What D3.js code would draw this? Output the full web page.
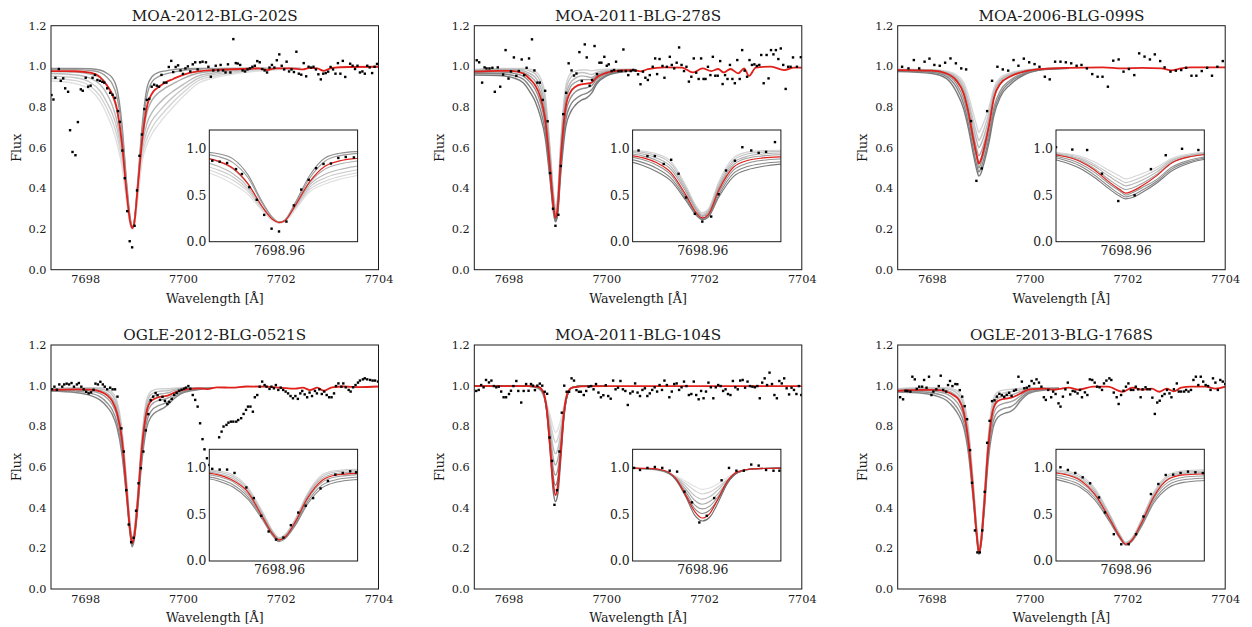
<!DOCTYPE html>
<html>
<head>
<meta charset="utf-8">
<script src="https://cdn.jsdelivr.net/npm/d3@7"></script>
<style>
  body { margin: 0; background: #fff; }
  svg { display: block; }
  text { font-family: "DejaVu Serif", serif; fill: #1a1a1a; }
</style>
</head>
<body>
<svg id="chart" width="1252" height="627"></svg>
<script>
// ---------- shared axis settings ----------
const titles = ["MOA-2012-BLG-202S", "MOA-2011-BLG-278S", "MOA-2006-BLG-099S",
                "OGLE-2012-BLG-0521S", "MOA-2011-BLG-104S", "OGLE-2013-BLG-1768S"];
const xDomain = [7697.3, 7704.0];
const yDomain = [0, 1.2];
const xTickValues = [7698, 7700, 7702, 7704];
const yTickValues = [0.0, 0.2, 0.4, 0.6, 0.8, 1.0, 1.2];
const insetXDomain = [7698.49, 7699.49];
const insetXTicks = [7698.96];
const insetYTicks = [0.0, 0.5, 1.0];

// ---------- MOA-2012-BLG-202S ----------
const p1Grid = [7697.3, 7697.8, 7698.1, 7698.3, 7698.45, 7698.55, 7698.65, 7698.75, 7698.85, 7698.92, 7698.96, 7699.0, 7699.07, 7699.17, 7699.27, 7699.37, 7699.5, 7699.65, 7699.8, 7700.0, 7700.3, 7700.7, 7701.2, 7701.8, 7702.4];
const p1Models = [
  [0.99,0.99,0.988,0.982,0.965,0.945,0.89,0.72,0.42,0.255,0.21,0.235,0.42,0.72,0.9,0.95,0.97,0.978,0.984,0.988,0.99,0.99,0.99,0.99,0.99],
  [0.985,0.984,0.98,0.97,0.945,0.915,0.85,0.69,0.405,0.25,0.21,0.232,0.405,0.69,0.865,0.925,0.95,0.963,0.972,0.98,0.986,0.989,0.99,0.99,0.99],
  [0.975,0.972,0.962,0.945,0.905,0.86,0.78,0.62,0.37,0.235,0.205,0.225,0.38,0.64,0.78,0.835,0.87,0.895,0.915,0.94,0.966,0.978,0.985,0.988,0.99],
  [0.965,0.958,0.942,0.912,0.862,0.81,0.73,0.59,0.36,0.232,0.205,0.223,0.37,0.615,0.725,0.775,0.815,0.85,0.878,0.91,0.952,0.97,0.981,0.987,0.99],
  [0.952,0.944,0.922,0.88,0.82,0.77,0.695,0.565,0.35,0.228,0.203,0.22,0.36,0.59,0.685,0.735,0.775,0.815,0.85,0.89,0.94,0.963,0.977,0.986,0.99],
  [0.94,0.93,0.903,0.855,0.79,0.735,0.66,0.54,0.34,0.225,0.2,0.218,0.352,0.565,0.65,0.70,0.745,0.785,0.825,0.87,0.928,0.955,0.972,0.984,0.99],
  [0.928,0.915,0.885,0.83,0.76,0.70,0.62,0.51,0.33,0.222,0.2,0.215,0.345,0.54,0.62,0.67,0.715,0.76,0.80,0.85,0.915,0.947,0.968,0.981,0.99]
];
const p1Shades = ["#8e8e8e", "#9c9c9c", "#ababab", "#b9b9b9", "#c7c7c7", "#d4d4d4", "#e0e0e0"];
const p1Fit = [[7697.3,0.977],[7697.8,0.976],[7698.1,0.969],[7698.3,0.948],[7698.45,0.905],[7698.55,0.865],[7698.65,0.79],[7698.75,0.625],[7698.85,0.37],[7698.92,0.235],[7698.96,0.205],[7699.0,0.225],[7699.07,0.39],[7699.17,0.65],[7699.27,0.81],[7699.37,0.868],[7699.5,0.898],[7699.65,0.922],[7699.8,0.938],[7700.0,0.958],[7700.3,0.975],[7700.7,0.983],[7701.2,0.987],[7701.55,0.99],[7701.72,0.982],[7701.9,0.99],[7702.2,0.99],[7702.45,0.985],[7702.6,0.993],[7702.75,0.99],[7702.88,0.978],[7703.05,0.993],[7703.4,0.997],[7704.0,0.998]];
const p1Obs = [[7697.31,0.859],[7697.35,0.837],[7697.39,0.944],[7697.46,0.987],[7697.50,0.929],[7697.55,0.941],[7697.59,0.892],[7697.65,0.875],[7697.69,0.686],[7697.74,0.579],[7697.80,0.563],[7697.85,0.726],[7697.91,0.887],[7697.95,0.88],[7698.01,0.944],[7698.06,0.90],[7698.11,0.905],[7698.15,0.944],[7698.20,0.958],[7698.25,0.933],[7698.30,0.929],[7698.35,0.924],[7698.39,0.92],[7698.45,0.892],
  [7698.51,0.87],[7698.56,0.86],[7698.61,0.845],[7698.67,0.78],[7698.71,0.727],[7698.76,0.586],[7698.81,0.45],[7698.86,0.288],[7698.91,0.14],[7698.96,0.11],[7699.01,0.216],[7699.06,0.39],[7699.11,0.56],[7699.16,0.665],[7699.21,0.79],[7699.26,0.835],[7699.31,0.84],[7699.36,0.90],[7699.41,0.91],[7699.465,0.905],
  [7699.51,0.90],[7699.56,0.958],[7699.61,0.92],[7699.66,0.92],[7699.71,0.997],[7699.76,1.027],[7699.80,0.972],[7699.85,0.997],[7699.90,1.005],[7699.95,0.98],[7700.0,0.963],[7700.05,0.99],[7700.10,1.0],[7700.15,0.975],[7700.20,1.01],[7700.25,1.02],[7700.30,0.985],[7700.35,1.02],
  [7700.40,1.023],[7700.47,1.02],[7700.52,0.998],[7700.57,0.949],[7700.62,0.98],[7700.67,1.003],[7700.72,0.98],[7700.77,1.007],[7700.82,0.98],[7700.87,0.97],[7700.92,1.01],[7700.97,0.97],[7701.03,1.134],[7701.08,1.016],[7701.12,1.014],[7701.17,1.007],[7701.22,0.98],[7701.27,0.975],[7701.32,0.985],[7701.37,0.99],[7701.42,0.998],[7701.47,1.003],[7701.52,1.026],[7701.57,1.02],[7701.62,0.987],[7701.67,0.98],[7701.72,0.97],[7701.77,0.994],[7701.82,1.007],[7701.87,0.994],[7701.92,1.03],[7701.97,1.059],[7702.02,1.003],[7702.07,0.985],[7702.12,1.023],[7702.17,0.975],[7702.22,0.985],[7702.27,0.972],[7702.32,1.072],[7702.37,0.964],[7702.42,0.959],[7702.47,1.016],[7702.52,0.951],[7702.57,0.998],[7702.62,0.994],[7702.67,0.998],[7702.72,0.985],[7702.77,0.961],[7702.82,0.936],[7702.87,0.964],[7702.92,0.967],[7702.97,0.974],[7703.02,0.997],[7703.07,0.985],[7703.12,0.964],[7703.17,1.016],[7703.22,0.964],[7703.27,1.027],[7703.32,0.948],[7703.42,1.013],[7703.47,1.003],[7703.52,0.987],[7703.57,1.003],[7703.62,0.97],[7703.67,0.975],[7703.72,0.964],[7703.77,1.003],[7703.82,0.995],[7703.87,0.967],[7703.92,0.998],[7703.97,1.012]];

// ---------- MOA-2011-BLG-278S ----------
const p2Grid = [7697.3, 7697.8, 7698.1, 7698.3, 7698.45, 7698.55, 7698.65, 7698.75, 7698.85, 7698.92, 7698.96, 7699.0, 7699.07, 7699.17, 7699.27, 7699.37, 7699.5, 7699.6, 7699.7, 7699.8, 7700.0, 7700.3, 7700.6];
const p2Models = [
  [0.985,0.99,0.99,0.99,0.985,0.975,0.945,0.86,0.6,0.38,0.31,0.35,0.64,0.9,0.965,0.978,0.982,0.982,0.978,0.982,0.986,0.986,0.986],
  [0.982,0.987,0.987,0.985,0.976,0.962,0.925,0.835,0.58,0.365,0.295,0.335,0.615,0.875,0.945,0.962,0.97,0.966,0.96,0.97,0.98,0.984,0.985],
  [0.98,0.984,0.983,0.978,0.963,0.945,0.9,0.805,0.56,0.35,0.28,0.32,0.59,0.85,0.92,0.942,0.953,0.95,0.945,0.96,0.975,0.982,0.984],
  [0.977,0.981,0.978,0.97,0.95,0.925,0.875,0.775,0.535,0.335,0.27,0.305,0.57,0.825,0.9,0.922,0.935,0.935,0.935,0.953,0.972,0.981,0.983],
  [0.97,0.972,0.966,0.952,0.92,0.885,0.825,0.715,0.48,0.3,0.248,0.28,0.525,0.77,0.845,0.875,0.89,0.895,0.905,0.935,0.963,0.978,0.982],
  [0.964,0.964,0.955,0.937,0.895,0.855,0.79,0.68,0.46,0.29,0.24,0.27,0.5,0.735,0.81,0.84,0.86,0.868,0.885,0.922,0.957,0.975,0.981],
  [0.957,0.955,0.943,0.92,0.87,0.825,0.755,0.65,0.44,0.28,0.235,0.262,0.475,0.7,0.775,0.81,0.835,0.845,0.868,0.912,0.952,0.972,0.98]
];
const p2Shades = ["#d2d2d2", "#c2c2c2", "#b2b2b2", "#a2a2a2", "#929292", "#858585", "#787878"];
const p2Fit = [[7697.3,0.974],[7697.8,0.978],[7698.1,0.977],[7698.3,0.965],[7698.45,0.935],[7698.55,0.905],[7698.65,0.85],[7698.75,0.74],[7698.85,0.5],[7698.92,0.31],[7698.96,0.255],[7699.0,0.29],[7699.07,0.55],[7699.17,0.8],[7699.27,0.875],[7699.37,0.9],[7699.5,0.912],[7699.6,0.915],[7699.7,0.92],[7699.8,0.945],[7700.0,0.968],[7700.3,0.98],[7700.55,0.982],[7700.7,0.975],[7700.85,0.986],[7701.2,0.995],[7701.55,0.994],[7701.77,0.97],[7701.97,0.99],[7702.15,0.977],[7702.29,0.987],[7702.4,0.97],[7702.54,0.987],[7702.7,0.966],[7702.82,0.99],[7702.92,0.953],[7703.06,0.994],[7703.37,0.999],[7703.64,0.982],[7703.84,0.994],[7704.0,0.994]];
const p2Obs = [[7697.35,1.03],[7697.40,1.02],[7697.46,0.92],[7697.51,0.995],[7697.55,0.99],[7697.61,0.99],[7697.67,0.993],[7697.72,0.875],[7697.78,0.995],[7697.83,0.90],[7697.89,0.96],[7697.94,1.08],[7698.0,0.94],[7698.05,0.975],[7698.11,1.044],[7698.16,0.953],[7698.21,0.977],[7698.27,1.034],[7698.32,0.957],[7698.37,0.993],[7698.42,1.039],[7698.48,1.133],
  [7698.53,0.98],[7698.59,0.92],[7698.64,0.92],[7698.70,0.835],[7698.75,0.88],[7698.80,0.73],[7698.85,0.475],[7698.91,0.30],[7698.96,0.216],[7699.02,0.27],[7699.07,0.51],[7699.12,0.765],[7699.18,0.87],[7699.23,1.015],[7699.29,0.98],[7699.34,0.955],[7699.39,0.965],[7699.45,1.07],
  [7699.50,0.928],[7699.56,1.108],[7699.60,1.044],[7699.66,0.905],[7699.71,0.933],[7699.76,1.10],[7699.81,0.962],[7699.86,1.018],[7699.90,1.018],[7699.96,1.047],[7700.01,1.003],[7700.05,1.01],[7700.11,0.977],[7700.16,0.982],[7700.20,1.023],[7700.25,0.977],[7700.31,0.977],[7700.35,1.083],[7700.40,0.977],[7700.45,0.957],[7700.50,0.977],[7700.55,0.982],[7700.60,0.979],[7700.65,0.961],[7700.70,0.912],[7700.75,0.974],[7700.80,0.944],[7700.85,0.933],[7700.89,0.957],[7700.95,0.998],[7701.0,1.039],[7701.04,0.962],[7701.09,1.036],[7701.15,1.002],[7701.19,0.944],[7701.24,0.998],[7701.30,1.047],[7701.34,1.007],[7701.39,0.99],[7701.44,1.018],[7701.49,1.093],[7701.54,1.007],[7701.59,0.977],[7701.64,0.998],[7701.69,0.925],[7701.74,0.949],[7701.79,1.039],[7701.84,0.969],[7701.89,0.938],[7701.94,1.039],[7701.99,0.938],[7702.03,0.938],[7702.08,0.998],[7702.13,0.957],[7702.18,1.047],[7702.23,0.954],[7702.28,0.954],[7702.33,1.026],[7702.38,0.913],[7702.43,0.957],[7702.48,0.938],[7702.53,1.007],[7702.58,0.938],[7702.63,0.917],[7702.68,1.031],[7702.73,0.938],[7702.78,1.08],[7702.83,0.979],[7702.88,0.949],[7702.93,1.031],[7702.98,1.007],[7703.03,1.01],[7703.08,1.002],[7703.13,1.007],[7703.17,1.056],[7703.22,0.917],[7703.28,1.056],[7703.32,0.941],[7703.37,1.08],[7703.42,1.059],[7703.47,1.08],[7703.52,1.036],[7703.57,1.088],[7703.62,1.007],[7703.67,0.889],[7703.72,0.998],[7703.77,0.998],[7703.82,1.044],[7703.90,0.998],[7703.98,1.045]];

// ---------- MOA-2006-BLG-099S ----------
const p3Grid = [7697.3, 7698.0, 7698.3, 7698.5, 7698.65, 7698.75, 7698.85, 7698.92, 7698.96, 7699.0, 7699.07, 7699.17, 7699.27, 7699.4, 7699.6, 7699.9, 7700.3, 7700.8];
const p3Models = [
  [0.986,0.984,0.976,0.958,0.92,0.855,0.765,0.705,0.675,0.69,0.73,0.8,0.895,0.945,0.968,0.982,0.99,0.992],
  [0.985,0.982,0.972,0.95,0.905,0.83,0.73,0.665,0.635,0.65,0.695,0.775,0.88,0.935,0.962,0.98,0.989,0.992],
  [0.984,0.981,0.969,0.943,0.89,0.81,0.7,0.63,0.6,0.615,0.66,0.75,0.868,0.928,0.958,0.978,0.988,0.992],
  [0.983,0.98,0.966,0.935,0.875,0.785,0.665,0.59,0.56,0.575,0.625,0.725,0.85,0.915,0.95,0.975,0.988,0.992],
  [0.98,0.976,0.958,0.915,0.84,0.745,0.62,0.545,0.5,0.522,0.58,0.67,0.8,0.88,0.932,0.968,0.986,0.991],
  [0.977,0.971,0.95,0.898,0.815,0.715,0.59,0.512,0.48,0.497,0.552,0.65,0.78,0.865,0.922,0.964,0.985,0.991],
  [0.974,0.965,0.94,0.875,0.79,0.69,0.565,0.488,0.46,0.472,0.528,0.63,0.76,0.85,0.91,0.96,0.984,0.991]
];
const p3Shades = ["#d6d6d6", "#c6c6c6", "#b6b6b6", "#a6a6a6", "#969696", "#888888", "#7a7a7a"];
const p3Fit = [[7697.3,0.982],[7698.0,0.979],[7698.3,0.965],[7698.5,0.93],[7698.65,0.865],[7698.75,0.77],[7698.85,0.64],[7698.92,0.56],[7698.96,0.522],[7699.0,0.54],[7699.07,0.6],[7699.17,0.71],[7699.27,0.845],[7699.4,0.915],[7699.6,0.95],[7699.9,0.975],[7700.3,0.988],[7700.8,0.993],[7701.5,0.995],[7701.9,0.99],[7702.3,0.993],[7702.7,0.99],[7702.9,0.98],[7703.1,0.99],[7703.3,0.995],[7704.0,0.995]];
const p3Obs = [[7697.39,0.998],[7697.52,0.99],[7697.63,1.031],[7697.74,0.99],[7697.85,1.023],[7697.95,1.038],[7698.05,1.007],[7698.16,1.003],[7698.27,1.018],[7698.38,1.039],[7698.49,1.015],[7698.60,0.99],[7698.70,0.985],[7698.80,0.731],[7698.91,0.437],[7699.02,0.498],[7699.13,0.78],[7699.23,0.929],[7699.34,0.998],[7699.45,0.985],[7699.56,0.979],[7699.67,1.031],[7699.77,1.003],[7699.88,1.038],[7699.99,1.02],[7700.10,1.011],[7700.20,0.998],[7700.31,0.949],[7700.41,0.936],[7700.52,1.023],[7700.63,1.023],[7700.74,1.02],[7700.85,1.015],[7700.96,1.003],[7701.06,1.007],[7701.17,0.99],[7701.28,0.962],[7701.39,0.949],[7701.49,0.949],[7701.60,0.9],[7701.71,1.028],[7701.82,1.034],[7701.92,0.974],[7702.03,0.987],[7702.14,0.957],[7702.24,1.064],[7702.35,1.048],[7702.46,1.034],[7702.56,1.059],[7702.67,1.026],[7702.76,0.995],[7702.88,0.974],[7702.99,0.979],[7703.10,0.982],[7703.20,0.993],[7703.31,0.954],[7703.41,0.954],[7703.52,0.977],[7703.63,0.993],[7703.73,0.954],[7703.84,0.998],[7703.95,1.026]];

// ---------- OGLE-2012-BLG-0521S ----------
const p4Grid = [7697.3, 7697.8, 7698.1, 7698.3, 7698.45, 7698.55, 7698.65, 7698.75, 7698.85, 7698.92, 7698.96, 7699.0, 7699.07, 7699.15, 7699.25, 7699.35, 7699.5, 7699.6, 7699.7, 7699.8, 7700.0, 7700.3, 7700.6];
const p4Models = [
  [0.985,0.99,0.99,0.99,0.982,0.968,0.925,0.79,0.525,0.32,0.25,0.285,0.455,0.72,0.925,0.972,0.984,0.985,0.985,0.988,0.99,0.99,0.99],
  [0.983,0.988,0.988,0.985,0.974,0.955,0.905,0.77,0.51,0.31,0.245,0.278,0.445,0.705,0.905,0.958,0.972,0.974,0.976,0.982,0.988,0.99,0.99],
  [0.981,0.985,0.984,0.978,0.962,0.938,0.885,0.75,0.495,0.3,0.238,0.27,0.432,0.69,0.885,0.94,0.958,0.961,0.965,0.974,0.985,0.989,0.99],
  [0.978,0.979,0.974,0.962,0.938,0.908,0.85,0.715,0.47,0.285,0.228,0.258,0.41,0.655,0.845,0.905,0.928,0.932,0.94,0.954,0.976,0.986,0.99],
  [0.976,0.973,0.963,0.946,0.915,0.882,0.82,0.69,0.455,0.275,0.218,0.248,0.395,0.63,0.815,0.875,0.902,0.91,0.923,0.943,0.97,0.983,0.989],
  [0.974,0.966,0.952,0.93,0.895,0.86,0.795,0.665,0.44,0.265,0.208,0.238,0.382,0.605,0.785,0.848,0.878,0.89,0.908,0.932,0.965,0.98,0.988]
];
const p4Shades = ["#d0d0d0", "#c0c0c0", "#b0b0b0", "#a0a0a0", "#929292", "#858585"];
const p4Fit = [[7697.3,0.979],[7697.8,0.982],[7698.1,0.981],[7698.3,0.972],[7698.45,0.952],[7698.55,0.925],[7698.65,0.865],[7698.75,0.74],[7698.85,0.47],[7698.92,0.285],[7698.96,0.226],[7699.0,0.255],[7699.07,0.42],[7699.15,0.67],[7699.25,0.865],[7699.35,0.925],[7699.5,0.943],[7699.6,0.947],[7699.7,0.952],[7699.8,0.963],[7700.0,0.979],[7700.3,0.987],[7700.5,0.983],[7700.7,0.992],[7701.0,0.99],[7701.3,0.996],[7701.7,0.995],[7702.0,0.99],[7702.3,0.985],[7702.45,0.99],[7702.6,0.978],[7702.75,0.99],[7702.88,0.975],[7703.05,0.992],[7703.3,0.996],[7703.6,0.993],[7704.0,0.996]];
const p4Obs = [[7697.32,0.982],[7697.37,0.995],[7697.42,0.98],[7697.47,1.006],[7697.53,0.995],[7697.57,1.006],[7697.62,1.01],[7697.67,1.006],[7697.72,1.013],[7697.77,0.995],[7697.83,1.006],[7697.87,1.013],[7697.92,0.995],[7697.97,0.982],[7698.02,0.97],[7698.07,0.962],[7698.12,0.967],[7698.17,0.98],[7698.21,1.01],[7698.26,1.006],[7698.31,1.019],[7698.36,1.006],[7698.40,0.995],[7698.45,0.982],
  [7698.51,0.99],[7698.56,0.982],[7698.61,0.982],[7698.66,0.946],[7698.74,0.79],[7698.79,0.676],[7698.84,0.486],[7698.89,0.317],[7698.94,0.23],[7698.99,0.252],[7699.04,0.385],[7699.09,0.52],[7699.14,0.594],[7699.19,0.676],[7699.24,0.78],[7699.29,0.86],[7699.34,0.928],[7699.39,0.946],[7699.44,0.964],[7699.48,0.953],
  [7699.53,0.93],[7699.58,0.945],[7699.63,0.925],[7699.68,0.91],[7699.72,0.92],[7699.77,0.935],[7699.82,0.955],[7699.87,0.965],[7699.92,0.975],[7699.97,0.98],[7700.02,0.985],[7700.06,0.99],[7700.11,0.998],[7700.15,0.985],[7700.20,0.954],[7700.25,0.93],[7700.30,0.897],[7700.35,0.815],[7700.40,0.737],[7700.44,0.687],[7700.49,0.643],[7700.54,0.61],[7700.59,0.58],[7700.64,0.575],[7700.69,0.62],[7700.74,0.746],[7700.79,0.774],[7700.83,0.799],[7700.89,0.807],[7700.93,0.818],[7700.98,0.823],[7701.03,0.823],[7701.09,0.823],[7701.13,0.831],[7701.19,0.84],[7701.24,0.861],[7701.29,0.881],[7701.33,0.897],[7701.38,0.897],[7701.43,0.872],[7701.47,0.943],[7701.52,0.954],[7701.57,0.995],[7701.62,1.02],[7701.67,1.003],[7701.71,0.995],[7701.77,0.984],[7701.81,0.995],[7701.86,0.987],[7701.90,1.003],[7701.95,0.979],[7702.0,0.99],[7702.05,0.979],[7702.10,0.971],[7702.15,0.962],[7702.20,0.949],[7702.25,0.938],[7702.30,0.949],[7702.35,0.935],[7702.40,0.962],[7702.44,0.974],[7702.49,0.957],[7702.54,0.943],[7702.59,0.966],[7702.64,0.949],[7702.70,0.974],[7702.74,0.962],[7702.79,0.982],[7702.84,0.959],[7702.89,0.971],[7702.94,0.954],[7702.99,0.943],[7703.04,0.943],[7703.09,0.962],[7703.13,0.998],[7703.18,1.011],[7703.24,0.995],[7703.28,1.011],[7703.33,0.992],[7703.39,0.979],[7703.43,0.971],[7703.48,0.992],[7703.53,1.003],[7703.58,1.015],[7703.62,1.025],[7703.68,1.031],[7703.72,1.036],[7703.77,1.031],[7703.83,1.028],[7703.88,1.025],[7703.93,1.025],[7703.99,1.02]];

// ---------- MOA-2011-BLG-104S ----------
const p5Grid = [7697.3, 7698.4, 7698.6, 7698.7, 7698.78, 7698.85, 7698.91, 7698.96, 7699.01, 7699.07, 7699.13, 7699.2, 7699.3, 7699.5, 7700.0];
const p5Models = [
  [0.998,0.997,0.985,0.96,0.915,0.855,0.8,0.77,0.785,0.835,0.9,0.955,0.99,0.998,0.998],
  [0.998,0.997,0.987,0.96,0.905,0.83,0.755,0.72,0.74,0.8,0.88,0.952,0.99,0.998,0.998],
  [0.998,0.997,0.988,0.962,0.9,0.8,0.7,0.665,0.69,0.77,0.87,0.95,0.99,0.998,0.998],
  [0.998,0.998,0.99,0.965,0.89,0.77,0.65,0.61,0.64,0.73,0.855,0.95,0.99,0.998,0.998],
  [0.998,0.998,0.99,0.967,0.885,0.74,0.6,0.56,0.59,0.7,0.845,0.95,0.99,0.998,0.998],
  [0.998,0.998,0.991,0.968,0.88,0.715,0.56,0.51,0.545,0.675,0.84,0.95,0.99,0.998,0.998],
  [0.998,0.998,0.992,0.97,0.875,0.685,0.49,0.43,0.47,0.64,0.835,0.95,0.99,0.998,0.998]
];
const p5Shades = ["#e2e2e2", "#d0d0d0", "#bdbdbd", "#aaaaaa", "#979797", "#848484", "#6e6e6e"];
const p5Fit = [[7697.3,0.998],[7698.4,0.998],[7698.6,0.995],[7698.7,0.975],[7698.78,0.89],[7698.85,0.7],[7698.91,0.53],[7698.96,0.462],[7699.01,0.51],[7699.07,0.68],[7699.13,0.86],[7699.2,0.96],[7699.3,0.99],[7699.5,0.997],[7700.0,0.998],[7704.0,0.998]];
const p5Obs = [[7697.34,0.974],[7697.39,0.979],[7697.44,1.003],[7697.49,0.992],[7697.54,1.028],[7697.60,1.016],[7697.65,1.025],[7697.70,0.998],[7697.75,0.992],[7697.80,0.995],[7697.85,0.971],[7697.90,0.943],[7697.95,0.943],[7698.01,0.959],[7698.05,0.975],[7698.10,0.998],[7698.16,1.023],[7698.20,0.974],[7698.26,0.917],[7698.31,0.974],[7698.36,1.008],[7698.41,0.975],[7698.46,1.008],
  [7698.50,1.0],[7698.54,0.978],[7698.59,1.0],[7698.64,1.01],[7698.69,1.0],[7698.74,0.97],[7698.79,0.96],[7698.84,0.745],[7698.89,0.63],[7698.94,0.414],[7698.99,0.486],[7699.04,0.676],[7699.09,0.867],[7699.14,1.0],[7699.19,0.97],[7699.24,0.97],[7699.29,1.036],[7699.34,1.025],[7699.39,0.978],[7699.44,0.97],[7699.48,0.97],
  [7699.54,0.954],[7699.59,0.974],[7699.64,0.995],[7699.69,0.998],[7699.74,0.982],[7699.79,1.008],[7699.84,0.966],[7699.89,0.943],[7699.94,0.953],[7699.99,1.002],[7700.04,0.949],[7700.09,0.936],[7700.14,1.025],[7700.19,0.982],[7700.24,0.99],[7700.29,1.023],[7700.34,0.982],[7700.39,0.974],[7700.44,0.905],[7700.49,0.962],[7700.54,0.971],[7700.59,1.011],[7700.64,0.966],[7700.69,0.949],[7700.74,0.979],[7700.79,0.987],[7700.84,0.949],[7700.89,0.962],[7700.94,0.979],[7700.99,0.992],[7701.04,0.971],[7701.09,1.003],[7701.14,0.979],[7701.19,1.025],[7701.24,1.003],[7701.29,0.943],[7701.34,0.971],[7701.39,1.008],[7701.44,1.011],[7701.49,0.979],[7701.54,0.992],[7701.59,1.02],[7701.64,0.998],[7701.69,0.954],[7701.74,0.959],[7701.79,1.02],[7701.84,0.954],[7701.89,0.933],[7701.94,0.974],[7701.99,0.938],[7702.04,0.971],[7702.09,1.015],[7702.14,0.992],[7702.19,0.938],[7702.24,0.992],[7702.29,1.003],[7702.34,0.998],[7702.39,0.974],[7702.44,0.982],[7702.49,0.959],[7702.54,0.954],[7702.59,1.023],[7702.64,0.992],[7702.69,0.982],[7702.74,1.025],[7702.79,1.028],[7702.84,0.99],[7702.89,1.02],[7702.94,0.998],[7702.99,0.995],[7703.04,0.992],[7703.09,0.998],[7703.14,0.938],[7703.19,1.015],[7703.24,1.036],[7703.29,1.003],[7703.34,1.064],[7703.39,1.008],[7703.44,0.954],[7703.49,0.938],[7703.54,1.023],[7703.59,1.011],[7703.64,1.036],[7703.69,0.987],[7703.74,0.957],[7703.79,0.99],[7703.84,0.979],[7703.89,0.959],[7703.94,0.998],[7703.99,0.954]];

// ---------- OGLE-2013-BLG-1768S ----------
const p6Grid = [7697.3, 7697.8, 7698.1, 7698.3, 7698.45, 7698.55, 7698.65, 7698.75, 7698.85, 7698.92, 7698.96, 7699.0, 7699.07, 7699.15, 7699.25, 7699.35, 7699.5, 7699.6, 7699.7, 7699.8, 7700.0, 7700.3, 7700.6];
const p6Models = [
  [0.985,0.99,0.99,0.99,0.982,0.968,0.925,0.785,0.51,0.29,0.2,0.245,0.46,0.74,0.93,0.97,0.98,0.982,0.984,0.987,0.99,0.99,0.99],
  [0.982,0.987,0.987,0.984,0.973,0.954,0.905,0.765,0.5,0.285,0.197,0.24,0.45,0.725,0.91,0.955,0.966,0.97,0.974,0.98,0.988,0.989,0.99],
  [0.979,0.983,0.982,0.976,0.96,0.937,0.885,0.745,0.485,0.275,0.19,0.232,0.435,0.71,0.89,0.938,0.95,0.953,0.96,0.97,0.985,0.988,0.989],
  [0.975,0.976,0.971,0.96,0.935,0.905,0.85,0.71,0.455,0.26,0.18,0.22,0.41,0.675,0.85,0.9,0.915,0.92,0.93,0.948,0.976,0.984,0.987],
  [0.972,0.97,0.96,0.943,0.912,0.878,0.82,0.685,0.44,0.25,0.175,0.213,0.395,0.65,0.82,0.872,0.89,0.895,0.91,0.935,0.97,0.981,0.986],
  [0.969,0.963,0.949,0.927,0.89,0.853,0.795,0.66,0.425,0.242,0.17,0.206,0.38,0.625,0.79,0.845,0.865,0.872,0.89,0.922,0.964,0.978,0.985]
];
const p6Shades = ["#d0d0d0", "#c0c0c0", "#b0b0b0", "#a0a0a0", "#929292", "#858585"];
const p6Fit = [[7697.3,0.974],[7697.8,0.979],[7698.1,0.979],[7698.3,0.97],[7698.45,0.952],[7698.55,0.93],[7698.65,0.87],[7698.75,0.72],[7698.85,0.46],[7698.92,0.26],[7698.96,0.18],[7699.0,0.22],[7699.07,0.42],[7699.15,0.69],[7699.25,0.88],[7699.35,0.925],[7699.5,0.936],[7699.6,0.94],[7699.7,0.948],[7699.8,0.96],[7700.0,0.982],[7700.3,0.985],[7700.5,0.98],[7700.8,0.99],[7701.0,0.98],[7701.3,0.995],[7701.6,0.995],[7701.9,0.97],[7702.1,0.99],[7702.3,0.98],[7702.5,0.985],[7702.65,0.97],[7702.8,0.985],[7702.95,0.972],[7703.1,0.99],[7703.3,0.995],[7703.6,0.995],[7703.8,0.985],[7704.0,0.995]];
const p6Obs = [[7697.35,0.943],[7697.41,0.933],[7697.46,0.975],[7697.50,0.974],[7697.56,0.971],[7697.60,1.044],[7697.65,1.031],[7697.69,0.984],[7697.74,0.995],[7697.80,0.995],[7697.84,1.028],[7697.89,0.99],[7697.94,1.044],[7697.99,0.954],[7698.03,0.971],[7698.09,0.982],[7698.14,0.998],[7698.18,1.049],[7698.23,0.979],[7698.29,0.971],[7698.33,1.003],[7698.37,1.023],[7698.42,0.998],[7698.48,1.008],
  [7698.52,1.007],[7698.57,0.978],[7698.62,0.946],[7698.67,0.899],[7698.72,0.835],[7698.78,0.683],[7698.82,0.522],[7698.88,0.288],[7698.93,0.18],[7698.98,0.18],[7699.03,0.288],[7699.08,0.478],[7699.13,0.719],[7699.18,0.827],[7699.23,0.924],[7699.28,0.928],[7699.33,0.946],[7699.38,0.96],[7699.43,0.953],
  [7699.48,0.945],[7699.53,0.955],[7699.58,0.965],[7699.63,0.95],[7699.68,0.975],[7699.72,0.98],[7699.77,1.044],[7699.84,1.02],[7699.89,0.987],[7699.94,0.99],[7699.99,0.998],[7700.04,1.023],[7700.09,1.011],[7700.14,1.031],[7700.19,1.015],[7700.24,0.995],[7700.29,0.943],[7700.33,0.93],[7700.38,0.979],[7700.44,0.943],[7700.48,0.971],[7700.53,0.959],[7700.59,0.913],[7700.63,0.897],[7700.68,0.946],[7700.73,0.982],[7700.78,1.015],[7700.83,0.957],[7700.88,0.974],[7700.93,0.971],[7700.98,0.962],[7701.03,0.979],[7701.07,0.943],[7701.13,0.967],[7701.18,0.954],[7701.23,1.031],[7701.28,1.028],[7701.33,1.015],[7701.38,0.995],[7701.43,0.992],[7701.48,0.979],[7701.52,1.011],[7701.57,1.025],[7701.63,1.036],[7701.67,1.028],[7701.72,0.966],[7701.78,0.943],[7701.82,0.91],[7701.87,0.954],[7701.92,0.975],[7701.97,0.995],[7702.02,1.011],[7702.07,0.979],[7702.12,0.979],[7702.17,0.995],[7702.22,0.982],[7702.27,0.943],[7702.31,0.982],[7702.37,0.992],[7702.41,0.982],[7702.46,0.982],[7702.51,0.941],[7702.56,0.861],[7702.61,0.917],[7702.66,0.926],[7702.71,0.949],[7702.76,0.959],[7702.81,0.979],[7702.86,0.962],[7702.90,0.943],[7702.95,0.982],[7703.01,1.011],[7703.05,0.971],[7703.10,0.971],[7703.16,0.971],[7703.20,0.979],[7703.25,0.971],[7703.30,0.979],[7703.35,1.028],[7703.40,1.044],[7703.45,1.003],[7703.50,1.044],[7703.55,1.02],[7703.60,1.003],[7703.65,0.998],[7703.70,0.979],[7703.75,1.036],[7703.80,1.015],[7703.85,0.979],[7703.90,1.028],[7703.95,1.02],[7704.0,1.008]];

// ---------- panel table ----------
const panels = [
  { grid: p1Grid, models: p1Models, shades: p1Shades, fit: p1Fit, obs: p1Obs },
  { grid: p2Grid, models: p2Models, shades: p2Shades, fit: p2Fit, obs: p2Obs },
  { grid: p3Grid, models: p3Models, shades: p3Shades, fit: p3Fit, obs: p3Obs },
  { grid: p4Grid, models: p4Models, shades: p4Shades, fit: p4Fit, obs: p4Obs },
  { grid: p5Grid, models: p5Models, shades: p5Shades, fit: p5Fit, obs: p5Obs },
  { grid: p6Grid, models: p6Models, shades: p6Shades, fit: p6Fit, obs: p6Obs }
].map((p, i) => ({ ...p, title: titles[i] }));

// ---------- layout ----------
const colLeft = [51, 474.3, 897.7];
const rowTop = [25.7, 345];
const axW = 327.5, axH = 244;
const inset = { dx: 158.3, dy: 104.3, w: 148.3, h: 111.7 };
const tickFont = 11.3, insetTickFont = 12.4, titleFont = 15.2, labelFont = 12.6;
const fitColor = "#e0201b";

const svg = d3.select("#chart");
svg.append("rect").attr("width", 1252).attr("height", 627).attr("fill", "#fff");

const x = d3.scaleLinear().domain(xDomain).range([0, axW]);
const y = d3.scaleLinear().domain(yDomain).range([axH, 0]);
const xi = d3.scaleLinear().domain(insetXDomain).range([0, inset.w]);
const yi = d3.scaleLinear().domain(yDomain).range([inset.h, 0]);

function styleAxis(size) {
  return g => {
    g.select(".domain").remove();
    g.selectAll(".tick line").remove();
    g.selectAll(".tick text").attr("font-size", size).attr("fill", "#1a1a1a")
      .attr("font-family", "DejaVu Serif, serif");
  };
}

function drawSpectra(g, p, sx, sy, clipId, lw, fitW, dot) {
  const body = g.append("g").attr("clip-path", `url(#${clipId})`);
  const modelLine = d3.line().x(d => sx(d[0])).y(d => sy(d[1])).curve(d3.curveMonotoneX);
  p.models.forEach((vals, k) => {
    const pts = p.grid.map((w, j) => [w, vals[j]]);
    body.append("path").attr("d", modelLine(pts)).attr("fill", "none")
      .attr("stroke", p.shades[k]).attr("stroke-width", lw);
  });
  body.append("path").attr("d", modelLine(p.fit)).attr("fill", "none")
    .attr("stroke", fitColor).attr("stroke-width", fitW);
  body.selectAll("rect.obs").data(p.obs).join("rect").attr("class", "obs")
    .attr("x", d => sx(d[0]) - dot / 2).attr("y", d => sy(d[1]) - dot / 2)
    .attr("width", dot).attr("height", dot).attr("fill", "#000");
}

const defs = svg.append("defs");

panels.forEach((p, i) => {
  const left = colLeft[i % 3], top = rowTop[Math.floor(i / 3)];
  const g = svg.append("g").attr("transform", `translate(${left},${top})`);

  defs.append("clipPath").attr("id", `main-clip-${i}`)
    .append("rect").attr("width", axW).attr("height", axH);
  defs.append("clipPath").attr("id", `inset-clip-${i}`)
    .append("rect").attr("width", inset.w).attr("height", inset.h);

  drawSpectra(g, p, x, y, `main-clip-${i}`, 1.4, 1.8, 2.4);

  g.append("rect").attr("width", axW).attr("height", axH)
    .attr("fill", "none").attr("stroke", "#1a1a1a").attr("stroke-width", 1);

  g.append("g").attr("transform", `translate(0,${axH})`)
    .call(d3.axisBottom(x).tickValues(xTickValues).tickFormat(d3.format("d")).tickSize(0).tickPadding(5.5))
    .call(styleAxis(tickFont));
  g.append("g")
    .call(d3.axisLeft(y).tickValues(yTickValues).tickFormat(d3.format(".1f")).tickSize(0).tickPadding(4.5))
    .call(styleAxis(tickFont));

  g.append("text").attr("x", axW / 2).attr("y", -5).attr("text-anchor", "middle")
    .attr("font-size", titleFont).text(p.title);
  g.append("text").attr("x", axW / 2).attr("y", axH + 33).attr("text-anchor", "middle")
    .attr("font-size", labelFont).text("Wavelength [Å]");
  g.append("text").attr("transform", `translate(${-35},${axH / 2}) rotate(-90)`)
    .attr("text-anchor", "middle").attr("dominant-baseline", "central")
    .attr("font-size", labelFont).text("Flux");

  // zoomed view of the line core
  const ig = g.append("g").attr("transform", `translate(${inset.dx},${inset.dy})`);
  ig.append("rect").attr("width", inset.w).attr("height", inset.h).attr("fill", "#fff");
  drawSpectra(ig, p, xi, yi, `inset-clip-${i}`, 1.1, 1.2, 2.4);
  ig.append("rect").attr("width", inset.w).attr("height", inset.h)
    .attr("fill", "none").attr("stroke", "#1a1a1a").attr("stroke-width", 1);
  ig.append("g").attr("transform", `translate(0,${inset.h})`)
    .call(d3.axisBottom(xi).tickValues(insetXTicks).tickFormat(d3.format(".2f")).tickSize(0).tickPadding(4.5))
    .call(styleAxis(insetTickFont));
  ig.append("g")
    .call(d3.axisLeft(yi).tickValues(insetYTicks).tickFormat(d3.format(".1f")).tickSize(0).tickPadding(3))
    .call(styleAxis(insetTickFont));
});
</script>
</body>
</html>
